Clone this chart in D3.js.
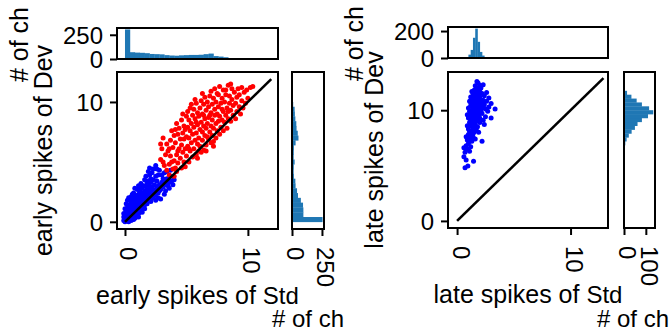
<!DOCTYPE html>
<html>
<head>
<meta charset="utf-8">
<script src="https://cdn.jsdelivr.net/npm/d3@7"></script>
<style>
  body { margin: 0; background: #fff; }
  svg text { font-family: "Liberation Sans", Arial, Helvetica, sans-serif; fill: #000; }
</style>
</head>
<body>
<svg id="chart" width="670" height="333"></svg>
<script>
// ---- data ----
// early spikes, channels shown in red (Std, Dev)
const earlyRed = [
  [2.9,5.2],[3.0,6.1],[3.1,7.0],[3.2,4.7],[3.3,5.6],[3.4,6.5],[3.1,5.0],[3.4,4.3],[3.5,5.9],[2.9,6.5],
  [3.6,3.9],[3.6,4.8],[3.7,5.5],[3.7,6.8],[3.8,7.6],[3.9,4.4],[3.9,6.2],[4.0,5.1],[4.0,7.2],[3.6,6.1],[3.8,5.0],[4.0,3.8],
  [4.1,4.5],[4.1,6.6],[4.2,5.6],[4.2,8.2],[4.3,7.3],[4.3,4.9],[4.4,6.1],[4.4,7.8],[4.5,5.3],[4.5,6.9],[4.1,7.7],[4.3,5.9],[4.2,4.2],
  [4.6,4.5],[4.6,6.4],[4.6,8.5],[4.7,5.8],[4.7,7.4],[4.8,5.0],[4.8,6.9],[4.8,8.0],[4.9,6.1],[4.9,7.7],[5.0,5.5],[5.0,8.8],[4.7,9.0],[4.9,4.6],[5.0,7.1],
  [5.1,6.3],[5.1,7.9],[5.1,9.2],[5.2,5.0],[5.2,7.0],[5.2,8.5],[5.3,5.9],[5.3,7.6],[5.3,9.5],[5.4,6.6],[5.4,8.2],[5.5,5.4],[5.5,7.3],[5.5,8.9],[5.2,6.1],[5.4,9.8],
  [5.6,6.1],[5.6,7.9],[5.6,9.4],[5.7,6.8],[5.7,8.6],[5.8,5.6],[5.8,7.4],[5.8,9.9],[5.9,6.5],[5.9,8.1],[5.9,9.1],[6.0,7.0],[6.0,8.8],[6.0,5.9],[5.7,10.2],[5.8,8.3],
  [6.1,6.3],[6.1,7.7],[6.1,9.5],[6.2,8.3],[6.2,10.1],[6.3,6.8],[6.3,7.5],[6.3,9.0],[6.4,6.0],[6.4,8.0],[6.4,9.8],[6.5,7.2],[6.5,8.6],[6.5,10.4],[6.2,5.8],[6.3,10.7],[6.4,8.9],
  [6.6,6.4],[6.6,7.8],[6.6,9.3],[6.7,8.2],[6.7,10.0],[6.8,6.9],[6.8,8.7],[6.8,9.6],[6.9,7.5],[6.9,10.5],[7.0,6.6],[7.0,8.0],[7.0,9.1],[6.7,7.1],[6.9,8.9],[7.0,10.9],
  [7.1,7.2],[7.1,8.5],[7.1,9.8],[7.2,6.3],[7.2,7.8],[7.2,10.3],[7.3,8.9],[7.3,9.4],[7.4,7.0],[7.4,8.2],[7.4,10.0],[7.5,7.6],[7.5,9.0],[7.5,10.7],[7.3,11.1],[7.2,6.7],
  [7.6,8.4],[7.6,9.6],[7.6,10.6],[7.7,7.3],[7.7,8.8],[7.8,9.9],[7.8,7.9],[7.9,8.5],[7.9,10.3],[8.0,7.6],[8.0,9.2],[8.0,11.0],[7.7,11.3],[7.9,9.4],
  [8.1,8.3],[8.1,10.0],[8.2,8.9],[8.2,10.6],[8.3,7.8],[8.3,9.5],[8.4,11.4],[8.4,8.6],[8.5,9.9],[8.5,10.5],[8.2,11.0],[8.4,9.2],
  [8.6,8.4],[8.6,9.3],[8.7,10.2],[8.7,11.1],[8.8,8.9],[8.8,9.7],[8.9,10.8],[9.0,8.6],[9.0,9.9],[8.6,11.5],
  [9.1,10.4],[9.1,9.2],[9.2,11.1],[9.3,9.6],[9.3,10.6],[9.4,9.0],[9.5,10.1],[9.5,11.2],
  [9.7,10.8],[9.8,9.9],[9.9,11.0],[10.0,10.3],[10.2,11.2],[10.4,11.3],[9.6,9.5],
  [5.9,5.3],[6.6,5.9]
];
// early spikes, channels shown in blue
const earlyBlue = [
  [0.0,0.0],[0.1,0.2],[0.0,0.5],[0.2,0.1],[0.1,0.8],[0.2,0.5],[0.0,1.1],[0.3,0.3],[0.1,1.5],[0.3,0.9],[0.2,1.2],[0.0,0.3],[0.3,0.0],[-0.1,0.7],[0.2,1.8],[-0.1,0.1],
  [0.4,0.2],[0.4,0.6],[0.5,0.4],[0.4,1.1],[0.5,0.9],[0.6,0.6],[0.5,1.5],[0.6,1.2],[0.4,1.8],[0.6,0.2],[0.5,2.1],[0.6,1.7],[0.4,1.4],[0.5,0.1],
  [0.7,0.5],[0.7,1.0],[0.8,0.8],[0.7,1.5],[0.8,1.3],[0.9,0.7],[0.8,2.0],[0.9,1.6],[0.7,2.4],[0.9,1.1],[0.8,2.8],[0.9,2.2],[0.8,0.3],[0.7,1.9],[0.9,0.4],
  [1.0,0.9],[1.0,1.4],[1.1,1.1],[1.0,1.9],[1.1,1.7],[1.2,1.3],[1.1,2.3],[1.2,2.0],[1.0,2.7],[1.2,0.8],[1.1,3.0],[1.2,2.6],[1.0,0.5],[1.1,0.7],
  [1.3,1.2],[1.3,1.7],[1.4,1.5],[1.3,2.3],[1.4,2.0],[1.5,1.1],[1.4,2.8],[1.5,2.4],[1.3,3.2],[1.5,1.8],[1.4,0.8],[1.3,0.9],
  [1.6,1.4],[1.6,2.0],[1.7,1.7],[1.6,2.6],[1.7,2.3],[1.8,1.5],[1.7,3.0],[1.8,2.7],[1.6,3.5],[1.8,2.0],[1.7,3.8],[1.6,1.1],
  [1.9,1.8],[1.9,2.4],[2.0,2.1],[2.0,3.0],[2.1,2.6],[1.9,3.4],[2.1,1.7],[2.0,3.9],[2.1,3.3],[2.0,4.5],[1.9,4.2],
  [2.2,2.3],[2.3,2.0],[2.2,2.9],[2.3,3.5],[2.4,2.6],[2.4,3.1],[2.2,4.1],[2.5,2.3],[2.5,3.8],[2.3,4.4],[2.5,4.7],
  [2.6,2.9],[2.7,2.4],[2.6,3.4],[2.8,3.1],[2.7,3.9],[2.9,2.7],[2.8,4.3],[3.0,3.3],[2.9,1.9],[3.0,3.9],[2.6,4.4],
  [3.1,2.9],[3.2,3.5],[3.3,3.1],[3.2,4.1],[3.4,3.6],[3.5,3.0],[3.3,2.6],[3.4,4.2],
  [3.6,3.3],[3.7,3.8],[3.8,3.4],[3.9,3.1],[4.0,3.5],[3.6,2.8],[3.7,4.3],
  [0.2,0.8],[0.3,1.4],[0.6,0.9],[0.7,0.2],[0.9,1.9],[1.0,1.2],[1.2,1.6],[1.4,1.1],[1.5,2.1],[1.7,2.0],
  [1.9,2.1],[2.0,2.7],[2.2,2.0],[2.3,2.7],[2.4,2.2],[2.6,2.6],[2.8,2.6],[3.0,2.9],[3.1,3.6],[3.5,3.5],
  [2.1,3.6],[1.8,3.3],[1.5,3.0],[1.2,2.9],[0.3,2.0],[0.6,2.3],[-0.1,0.4],[0.1,0.4],[0.4,0.9],[0.8,1.0],
  [1.1,0.4],[2.7,2.0],[3.2,2.3],[2.5,1.8]
];
// late spikes (all channels blue)
const lateBlue = [
  [0.7,4.8],[0.95,4.95],[1.45,5.4],[0.6,5.8],[0.8,5.5],
  [0.7,6.2],[0.9,6.5],[1.1,6.3],[0.8,6.8],[1.0,7.0],[1.2,6.7],[0.6,6.6],
  [0.9,7.3],[1.1,7.5],[1.3,7.2],[1.0,7.8],[1.2,7.9],[1.4,7.6],[0.8,7.6],[2.2,7.2],[1.5,8.0],[1.6,7.4],
  [1.0,8.3],[1.2,8.6],[1.4,8.4],[1.6,8.7],[1.1,8.9],[1.3,8.1],[1.5,9.0],[1.8,8.5],[2.0,8.9],[1.7,8.2],[2.4,8.7],[0.9,8.6],[1.9,8.0],
  [1.0,9.3],[1.2,9.6],[1.4,9.2],[1.6,9.5],[1.8,9.8],[2.0,9.3],[2.2,9.7],[1.1,9.9],[1.3,10.0],[1.5,9.8],[1.7,9.4],[1.9,10.0],[2.5,9.4],[3.0,9.3],[2.7,9.9],[2.3,9.1],[0.9,9.6],
  [1.0,10.2],[1.2,10.4],[1.4,10.2],[1.6,10.6],[1.8,10.3],[2.0,10.7],[2.2,10.2],[2.4,10.5],[1.1,10.8],[1.3,10.9],[1.5,11.0],[1.7,10.9],[1.9,11.0],[2.1,10.4],[2.6,10.8],[3.35,10.1],[2.8,10.3],[3.0,10.6],[1.5,10.5],[2.3,10.9],
  [1.2,11.2],[1.4,11.5],[1.6,11.3],[1.8,11.6],[2.0,11.2],[2.2,11.5],[1.5,11.8],[1.7,12.0],[1.9,11.9],[2.4,11.3],[2.6,11.6],[1.3,11.7],[2.1,12.0],[2.8,11.1],
  [1.6,12.2],[1.85,12.45],[2.0,12.25],[2.3,12.3],[1.75,12.6],
  [1.3,8.8],[1.5,8.5],[1.7,9.0],[1.9,9.2],[1.2,9.1],[1.4,9.7],[1.6,10.0],[1.8,10.6],[2.0,10.0],[1.2,10.7],
  [1.4,10.8],[1.6,11.0],[1.8,11.2],[2.1,10.9],[1.5,11.3],[1.9,11.4],[1.7,11.7],[2.0,11.7],[1.1,9.3],[1.3,9.4],
  [1.5,10.2],[1.7,10.3],[1.9,9.6],[2.1,9.9],[2.3,10.6],[2.5,10.1],[1.4,7.9],[1.2,7.3],[1.1,8.1],[1.6,8.3]
];

// identity lines (start, end)
const earlyDiagonal = [[0, 0], [11.9, 11.9]];
const lateDiagonal = [[0, 0], [12.9, 12.9]];

// marginal histograms: bin edges + counts
const earlyStdEdges = [0,0.4,0.8,1.2,1.6,2.0,2.4,2.8,3.2,3.6,4.0,4.4,4.8,5.2,5.6,6.0,6.4,6.8,7.2,7.6,8.0,8.4,8.8,9.2,9.6,10.0,10.4];
const earlyStdCounts = [305,70,66,64,60,52,50,48,40,36,34,38,40,42,42,44,50,56,30,25,18,10,5,3,2,1];
const earlyDevEdges = [0,0.4,0.8,1.2,1.6,2.0,2.4,2.8,3.2,3.6,4.0,4.4,4.8,5.2,5.6,6.0,6.4,6.8,7.2,7.6,8.0,8.4,8.8,9.2,9.6,10.0,10.4,10.8,11.2,11.6];
const earlyDevCounts = [255,95,95,92,74,50,42,30,28,16,14,15,22,14,15,16,30,54,48,38,36,28,24,22,10,7,5,3,1];
const lateStdEdges = [0.8,1.0,1.2,1.4,1.6,1.8,2.0,2.2,2.4,2.6,2.8];
const lateStdCounts = [3,25,60,150,218,120,45,18,6,2];
const lateDevEdges = [6.5,6.85,7.2,7.55,7.9,8.25,8.6,8.95,9.3,9.65,10.0,10.35,10.7,11.05,11.4,11.75];
const lateDevCounts = [4,6,12,22,35,50,62,82,110,134,115,82,58,34,14];

// tick labels
const mainTicks = [0, 10];
const earlyCountTicks = [0, 250];
const lateTopCountTicks = [0, 200];
const lateRightCountTicks = [0, 100];

// ---- drawing ----
const FONT_SIZE = 24;
const LABEL_SIZE = 25;
const HIST_COLOR = '#1f77b4';
const TICK_LEN = 7;
const svg = d3.select('#chart');
let clipId = 0;

function clipFor(box) {
  const id = 'clip' + (clipId++);
  svg.append('clipPath').attr('id', id)
    .append('rect').attr('x', box.x).attr('y', box.y).attr('width', box.w).attr('height', box.h);
  return `url(#${id})`;
}

function frame(box) {
  svg.append('rect')
    .attr('x', box.x).attr('y', box.y).attr('width', box.w).attr('height', box.h)
    .attr('fill', 'none').attr('stroke', '#000').attr('stroke-width', 2);
}

function styleAxis(g) {
  g.select('.domain').remove();
  g.selectAll('line').attr('stroke', '#000').attr('stroke-width', 2);
  g.attr('font-size', FONT_SIZE).attr('font-family', null);
}

function bottomAxis(scale, ticks, yPos) {
  const g = svg.append('g')
    .attr('transform', `translate(0,${yPos})`)
    .call(d3.axisBottom(scale).tickValues(ticks).tickSize(TICK_LEN).tickFormat(d3.format('d')));
  styleAxis(g);
  // labels read top to bottom
  g.selectAll('text')
    .attr('transform', 'rotate(90)')
    .attr('x', 18).attr('y', 0).attr('dy', '0.21em')
    .attr('text-anchor', 'start');
}

function leftAxis(scale, ticks, xPos) {
  const g = svg.append('g')
    .attr('transform', `translate(${xPos},0)`)
    .call(d3.axisLeft(scale).tickValues(ticks).tickSize(TICK_LEN).tickPadding(7).tickFormat(d3.format('d')));
  styleAxis(g);
  g.selectAll('text').attr('dy', '0.35em');
}

function vLabel(text, x, y) {
  svg.append('text')
    .attr('transform', `translate(${x},${y}) rotate(-90)`)
    .attr('text-anchor', 'middle')
    .attr('font-size', LABEL_SIZE)
    .text(text);
}

function hLabel(parts, x, y) {
  const t = svg.append('text')
    .attr('x', x).attr('y', y)
    .attr('text-anchor', 'middle')
    .attr('font-size', LABEL_SIZE);
  parts.forEach(p => t.append('tspan').attr('font-size', p.size || LABEL_SIZE).text(p.text));
}

function drawPanel(p) {
  const { main, top, right } = p;
  const x = d3.scaleLinear().domain(p.xDomain).range([main.x, main.x + main.w]);
  const y = d3.scaleLinear().domain(p.yDomain).range([main.y + main.h, main.y]);

  // scatter
  const gMain = svg.append('g').attr('clip-path', clipFor(main));
  p.series.forEach(s => {
    gMain.selectAll(null)
      .data(s.points)
      .join('circle')
      .attr('cx', d => x(d[0]))
      .attr('cy', d => y(d[1]))
      .attr('r', 2.5)
      .attr('fill', s.color);
  });
  gMain.append('path')
    .datum(p.diagonal)
    .attr('d', d3.line().x(d => x(d[0])).y(d => y(d[1])))
    .attr('stroke', '#000').attr('stroke-width', 2.6).attr('fill', 'none');

  // top histogram (shares x)
  const topBox = { x: main.x, y: top.y, w: main.w, h: top.h };
  const yTop = d3.scaleLinear().domain(top.domain).range([top.y + top.h, top.y]);
  svg.append('g').attr('clip-path', clipFor(topBox))
    .selectAll('rect')
    .data(top.counts)
    .join('rect')
    .attr('x', (d, i) => x(top.edges[i]))
    .attr('width', (d, i) => x(top.edges[i + 1]) - x(top.edges[i]) + 0.3)
    .attr('y', d => yTop(d))
    .attr('height', d => yTop(0) - yTop(d))
    .attr('fill', HIST_COLOR);

  // right histogram (shares y)
  const rightBox = { x: right.x, y: main.y, w: right.w, h: main.h };
  const xRight = d3.scaleLinear().domain(right.domain).range([right.x, right.x + right.w]);
  svg.append('g').attr('clip-path', clipFor(rightBox))
    .selectAll('rect')
    .data(right.counts)
    .join('rect')
    .attr('y', (d, i) => y(right.edges[i + 1]))
    .attr('height', (d, i) => y(right.edges[i]) - y(right.edges[i + 1]) + 0.3)
    .attr('x', xRight(0))
    .attr('width', d => xRight(d) - xRight(0))
    .attr('fill', HIST_COLOR);

  // axes
  bottomAxis(x, mainTicks, main.y + main.h);
  leftAxis(y, mainTicks, main.x);
  leftAxis(yTop, top.ticks, main.x);
  bottomAxis(xRight, right.ticks, main.y + main.h);

  frame(main);
  frame(topBox);
  frame(rightBox);

  // labels
  vLabel(p.yLabel, p.yLabelX, main.y + main.h / 2);
  vLabel('# of ch', p.countLabelX, top.y + top.h / 2 + 1);
  hLabel(p.xLabel, main.x + main.w / 2, p.xLabelY);
  hLabel([{ text: '# of ch', size: 24 }], p.countLabelCx, 327);
}

drawPanel({
  main: { x: 117, y: 72, w: 161, h: 157 },
  xDomain: [-0.65, 12.45],
  yDomain: [-0.6, 12.5],
  series: [
    { points: earlyBlue, color: '#0000ff' },
    { points: earlyRed, color: '#ff0000' }
  ],
  diagonal: earlyDiagonal,
  top: { y: 28, h: 31, domain: [0, 320], edges: earlyStdEdges, counts: earlyStdCounts, ticks: earlyCountTicks },
  right: { x: 292, w: 32, domain: [0, 267], edges: earlyDevEdges, counts: earlyDevCounts, ticks: earlyCountTicks },
  yLabel: 'early spikes of Dev',
  yLabelX: 52,
  countLabelX: 28,
  xLabel: [{ text: 'early spikes of ' }, { text: 'Std', size: 24 }],
  xLabelY: 304,
  countLabelCx: 308
});

drawPanel({
  main: { x: 448, y: 72, w: 160, h: 156 },
  xDomain: [-0.8, 13.3],
  yDomain: [-0.64, 13.45],
  series: [
    { points: lateBlue, color: '#0000ff' }
  ],
  diagonal: lateDiagonal,
  top: { y: 27, h: 31, domain: [0, 230], edges: lateStdEdges, counts: lateStdCounts, ticks: lateTopCountTicks },
  right: { x: 624, w: 31, domain: [0, 142], edges: lateDevEdges, counts: lateDevCounts, ticks: lateRightCountTicks },
  yLabel: 'late spikes of Dev',
  yLabelX: 383,
  countLabelX: 363,
  xLabel: [{ text: 'late spikes of ' }, { text: 'Std', size: 24 }],
  xLabelY: 303,
  countLabelCx: 633
});
</script>
</body>
</html>
